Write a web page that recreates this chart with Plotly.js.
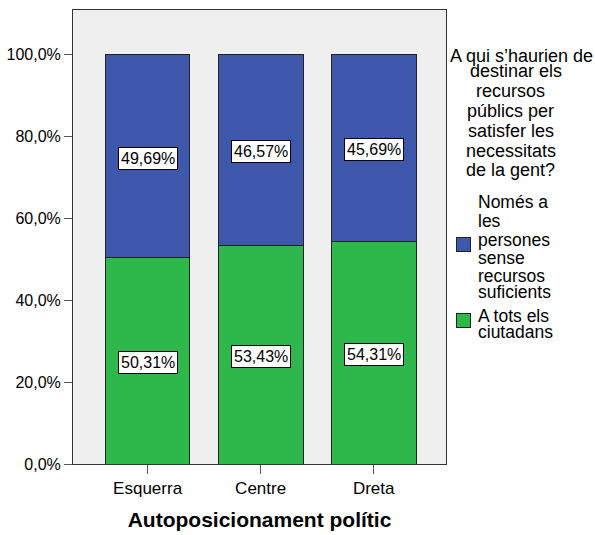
<!DOCTYPE html>
<html>
<head>
<meta charset="utf-8">
<script src="https://cdn.plot.ly/plotly-3.0.1.min.js"></script>
<style>html,body{margin:0;padding:0;background:#fff;}#chart{width:595px;height:535px;}</style>
</head>
<body>
<div id="chart"></div>
<script>
const categories = ['Esquerra', 'Centre', 'Dreta'];
const greenValues = [50.31, 53.43, 54.31];
const blueValues = [49.69, 46.57, 45.69];
const greenLines = ['A tots els', 'ciutadans'];
const blueLines = ['Només a', 'les', 'persones', 'sense', 'recursos', 'suficients'];
const legendTitleLines = ['A qui s’haurien de', 'destinar els', 'recursos', 'públics per', 'satisfer les', 'necessitats', 'de la gent?'];
const yTickVals = [0, 20, 40, 60, 80, 100];
const yTickText = ['0,0%', '20,0%', '40,0%', '60,0%', '80,0%', '100,0%'];

const GREEN = '#2eb74b';
const BLUE = '#3d57aa';
const FONT = 'Arial, "Liberation Sans", sans-serif';
const fmt = v => v.toFixed(2).replace('.', ',') + '%';

// plot geometry (pixels)
const W = 595, H = 535, ML = 73, MR = 149, MT = 10, MB = 71;
const PW = W - ML - MR, PH = H - MT - MB;
const px = x => (x - ML) / PW;
const py = y => (MT + PH - y) / PH;

const traces = [
  {type: 'bar', x: categories, y: greenValues, name: greenLines.join(' '),
   marker: {color: GREEN, line: {color: '#222', width: 1}}, width: 0.75, hoverinfo: 'none'},
  {type: 'bar', x: categories, y: blueValues, name: blueLines.join(' '),
   marker: {color: BLUE, line: {color: '#222', width: 1}}, width: 0.75, hoverinfo: 'none'}
];

const annotations = [];
const labelStyle = {showarrow: false, bgcolor: '#fff', bordercolor: '#000', borderwidth: 1, borderpad: 2,
  yshift: -2, font: {family: FONT, size: 16, color: '#000'}};
categories.forEach((c, i) => {
  annotations.push(Object.assign({x: c, y: greenValues[i] / 2, text: fmt(greenValues[i])}, labelStyle));
  annotations.push(Object.assign({x: c, y: greenValues[i] + blueValues[i] / 2, text: fmt(blueValues[i])}, labelStyle));
});

// legend (title + items) drawn as text in paper coordinates
const titleCenters = [521, 516, 511, 511, 511, 511, 511];
const titleY = [56.5, 70.5, 90.5, 110.5, 130.5, 150.5, 169.5];
legendTitleLines.forEach((t, i) => {
  annotations.push({xref: 'paper', yref: 'paper', x: px(titleCenters[i]), y: py(titleY[i]),
    xanchor: 'center', yanchor: 'middle', text: t, showarrow: false,
    font: {family: FONT, size: 18, color: '#000'}});
});
const itemTextX = 476;
const blueY = [202, 221, 240, 257.5, 275.5, 292];
const greenY = [315.5, 332];
blueLines.forEach((t, i) => {
  annotations.push({xref: 'paper', yref: 'paper', x: px(itemTextX), y: py(blueY[i]),
    xanchor: 'left', yanchor: 'middle', text: t, showarrow: false,
    font: {family: FONT, size: 17.5, color: '#000'}});
});
greenLines.forEach((t, i) => {
  annotations.push({xref: 'paper', yref: 'paper', x: px(itemTextX), y: py(greenY[i]),
    xanchor: 'left', yanchor: 'middle', text: t, showarrow: false,
    font: {family: FONT, size: 17.5, color: '#000'}});
});
[[BLUE, 244], [GREEN, 320.5]].forEach(([col, yc]) => {
  annotations.push({xref: 'paper', yref: 'paper', x: px(463), y: py(yc),
    xanchor: 'center', yanchor: 'middle', text: ' ', showarrow: false,
    width: 13, height: 13, bgcolor: col, bordercolor: '#222', borderwidth: 1, borderpad: 0,
    font: {family: FONT, size: 8, color: col}});
});

const layout = {
  width: W, height: H,
  margin: {l: ML, r: MR, t: MT, b: MB, pad: 0},
  paper_bgcolor: '#fff', plot_bgcolor: '#efefef',
  barmode: 'stack',
  font: {family: FONT, color: '#000'},
  showlegend: false,
  xaxis: {
    type: 'category', range: [-0.66, 2.64],
    showline: true, mirror: true, linecolor: '#333', linewidth: 1,
    ticks: 'outside', ticklen: 9, tickcolor: '#555',
    tickfont: {family: FONT, size: 17, color: '#000'},
    showgrid: false, zeroline: false, fixedrange: true,
    title: {text: '<b>Autoposicionament polític</b>', font: {family: FONT, size: 21, color: '#000'}, standoff: 14}
  },
  yaxis: {
    range: [0, 110.8],
    tickvals: yTickVals, ticktext: yTickText,
    showline: true, mirror: true, linecolor: '#333', linewidth: 1,
    ticks: 'outside', ticklen: 8, tickcolor: '#555',
    tickfont: {family: FONT, size: 16, color: '#000'},
    showgrid: false, zeroline: false, fixedrange: true
  },
  annotations: annotations
};

Plotly.newPlot('chart', traces, layout, {displayModeBar: false, staticPlot: true});
</script>
</body>
</html>
